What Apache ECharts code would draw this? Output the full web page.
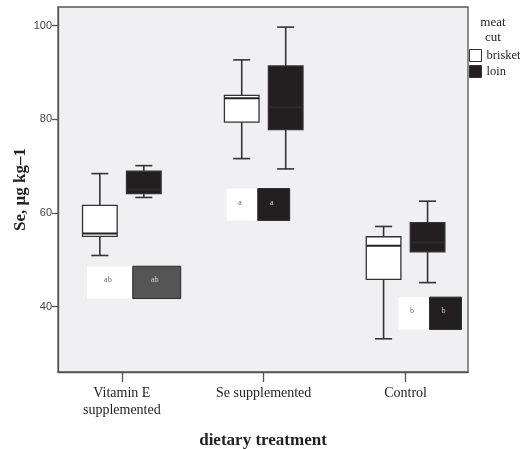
<!DOCTYPE html>
<html>
<head>
<meta charset="utf-8">
<script src="https://cdn.jsdelivr.net/npm/echarts@6/dist/echarts.min.js"></script>
<style>
  html, body { margin: 0; padding: 0; background: #fff; }
  #chart { width: 520px; height: 449px; }
</style>
</head>
<body>
<div id="chart"></div>
<script>
// Treatment groups along the x axis
const categories = ['Vitamin E\nsupplemented', 'Se supplemented', 'Control'];
const yTicks = [40, 60, 80, 100];

// Box summaries per group: [min, Q1, median, Q3, max], Se in µg/kg
const brisket = [
  [50.9, 55.0, 55.6, 61.6, 68.4],
  [71.6, 79.4, 84.5, 85.1, 92.7],
  [33.1, 45.8, 53.0, 54.9, 57.1]
];
const loin = [
  [63.3, 64.1, 65.0, 68.9, 70.1],
  [69.4, 77.8, 82.6, 91.4, 99.7],
  [45.1, 51.7, 53.7, 57.9, 62.5]
];

// Significance letters per group and the value span of their label tiles
const letters = ['ab', 'a', 'b'];
const letterTop = [48.6, 65.2, 42.0];
const letterBottom = [41.7, 58.4, 35.1];

// Horizontal layout of the letter tiles, in category units relative to the group centre
const tileLayout = [
  { white: [-0.246, 0.077], dark: [0.077, 0.415], darkFill: '#555555' },
  { white: [-0.262, -0.042], dark: [-0.042, 0.183], darkFill: '#231f20' },
  { white: [-0.049, 0.169], dark: [0.169, 0.394], darkFill: '#231f20' }
];

const BOX_OFFSET = 0.155;   // shift of each cut from the group centre
const BOX_HALF = 0.122;     // half box width, category units
const CAP_HALF = 0.06;      // half whisker cap width

function boxRenderer(offset, fill) {
  return function (params, api) {
    const xi = api.value(0);
    const x = xi + offset;
    const pMin = api.coord([x, api.value(1)]);
    const pQ1 = api.coord([x, api.value(2)]);
    const pMed = api.coord([x, api.value(3)]);
    const pQ3 = api.coord([x, api.value(4)]);
    const pMax = api.coord([x, api.value(5)]);
    const left = api.coord([x - BOX_HALF, 0])[0];
    const right = api.coord([x + BOX_HALF, 0])[0];
    const capL = api.coord([x - CAP_HALF, 0])[0];
    const capR = api.coord([x + CAP_HALF, 0])[0];
    const stroke = { stroke: '#333', lineWidth: 1.6 };
    return {
      type: 'group',
      children: [
        { type: 'line', shape: { x1: pMin[0], y1: pMin[1], x2: pMin[0], y2: pQ1[1] }, style: stroke },
        { type: 'line', shape: { x1: pMax[0], y1: pMax[1], x2: pMax[0], y2: pQ3[1] }, style: stroke },
        { type: 'line', shape: { x1: capL, y1: pMin[1], x2: capR, y2: pMin[1] }, style: stroke },
        { type: 'line', shape: { x1: capL, y1: pMax[1], x2: capR, y2: pMax[1] }, style: stroke },
        { type: 'rect', shape: { x: left, y: pQ3[1], width: right - left, height: pQ1[1] - pQ3[1] },
          style: { fill: fill, stroke: '#333', lineWidth: 1.3 } },
        { type: 'line', shape: { x1: left, y1: pMed[1], x2: right, y2: pMed[1] },
          style: { stroke: fill === '#ffffff' ? '#222' : '#2e2a2b', lineWidth: 2 } }
      ]
    };
  };
}

function letterRenderer(params, api) {
  const xi = api.value(0);
  const top = api.value(1);
  const bottom = api.value(2);
  const txt = letters[params.dataIndex];
  const lay = tileLayout[params.dataIndex];
  const wl = api.coord([xi + lay.white[0], top]);
  const wr = api.coord([xi + lay.white[1], bottom]);
  const dl = api.coord([xi + lay.dark[0], top]);
  const dr = api.coord([xi + lay.dark[1], bottom]);
  const font = '8px "Liberation Serif", serif';
  return {
    type: 'group',
    children: [
      { type: 'rect', shape: { x: wl[0], y: wl[1], width: wr[0] - wl[0], height: wr[1] - wl[1] },
        style: { fill: '#ffffff' } },
      { type: 'rect', shape: { x: dl[0], y: dl[1], width: dr[0] - dl[0], height: dr[1] - dl[1] },
        style: { fill: lay.darkFill, stroke: '#2a2a2a', lineWidth: 1 } },
      { type: 'text', x: (wl[0] + wr[0]) / 2 - 2, y: (wl[1] + wr[1]) / 2 - 2,
        style: { text: txt, font: font, fill: '#666', align: 'center', verticalAlign: 'middle' } },
      { type: 'text', x: (dl[0] + dr[0]) / 2 - 2, y: (dl[1] + dr[1]) / 2 - 2,
        style: { text: txt, font: font, fill: '#d0d0d0', align: 'center', verticalAlign: 'middle' } }
    ]
  };
}

const chart = echarts.init(document.getElementById('chart'), null, { renderer: 'canvas' });

const serif = '"Liberation Serif", "Times New Roman", serif';

chart.setOption({
  animation: false,
  backgroundColor: '#ffffff',
  title: {
    text: 'meat\ncut',
    left: 493,
    top: 15,
    padding: 0,
    textAlign: 'center',
    textStyle: { fontFamily: serif, fontSize: 13, fontWeight: 'normal', color: '#222', lineHeight: 15 }
  },
  legend: {
    orient: 'vertical',
    left: 469,
    top: 49,
    padding: 0,
    itemWidth: 12,
    itemHeight: 12,
    itemGap: 3,
    icon: 'rect',
    textStyle: { fontFamily: serif, fontSize: 12.5, color: '#222' },
    data: [
      { name: 'brisket', itemStyle: { color: '#ffffff', borderColor: '#333', borderWidth: 1 } },
      { name: 'loin', itemStyle: { color: '#231f20', borderColor: '#333', borderWidth: 1 } }
    ]
  },
  grid: {
    left: 58, top: 7, right: 52, bottom: 77,
    outerBoundsMode: 'none',
    containLabel: false,
    show: true,
    backgroundColor: '#f0f0f2',
    borderColor: '#555',
    borderWidth: 1.3
  },
  xAxis: {
    type: 'value',
    min: -0.45,
    max: 2.44,
    name: 'dietary treatment',
    nameLocation: 'middle',
    nameGap: 60,
    nameMoveOverlap: false,
    nameTextStyle: { fontFamily: serif, fontSize: 17, fontWeight: 'bold', color: '#222' },
    axisLine: { show: true, onZero: false, lineStyle: { color: '#555', width: 1.3 } },
    axisTick: { show: true, customValues: [0, 1, 2], length: 10, lineStyle: { color: '#555', width: 1.3 } },
    axisLabel: {
      customValues: [0, 1, 2],
      formatter: v => categories[Math.round(v)],
      fontFamily: serif, fontSize: 14, color: '#222', margin: 13, lineHeight: 17
    },
    splitLine: { show: false }
  },
  yAxis: {
    type: 'value',
    min: 26,
    max: 104,
    name: 'Se, µg kg–1',
    nameLocation: 'middle',
    nameGap: 29,
    nameMoveOverlap: false,
    nameRotate: 90,
    nameTextStyle: { fontFamily: serif, fontSize: 17, fontWeight: 'bold', color: '#222' },
    axisLine: { show: true, onZero: false, lineStyle: { color: '#555', width: 1.3 } },
    axisTick: { show: true, customValues: yTicks, length: 6, lineStyle: { color: '#555', width: 1.3 } },
    axisLabel: {
      customValues: yTicks,
      fontFamily: '"Liberation Sans", Arial, sans-serif', fontSize: 11, color: '#444', margin: 6
    },
    splitLine: { show: false }
  },
  series: [
    {
      name: 'letters',
      type: 'custom',
      renderItem: letterRenderer,
      data: letters.map((_, i) => [i, letterTop[i], letterBottom[i]]),
      z: 1
    },
    {
      name: 'brisket',
      type: 'custom',
      itemStyle: { color: '#ffffff' },
      renderItem: boxRenderer(-BOX_OFFSET, '#ffffff'),
      data: brisket.map((b, i) => [i].concat(b)),
      z: 2
    },
    {
      name: 'loin',
      type: 'custom',
      itemStyle: { color: '#231f20' },
      renderItem: boxRenderer(BOX_OFFSET, '#231f20'),
      data: loin.map((b, i) => [i].concat(b)),
      z: 2
    }
  ]
});
</script>
</body>
</html>
